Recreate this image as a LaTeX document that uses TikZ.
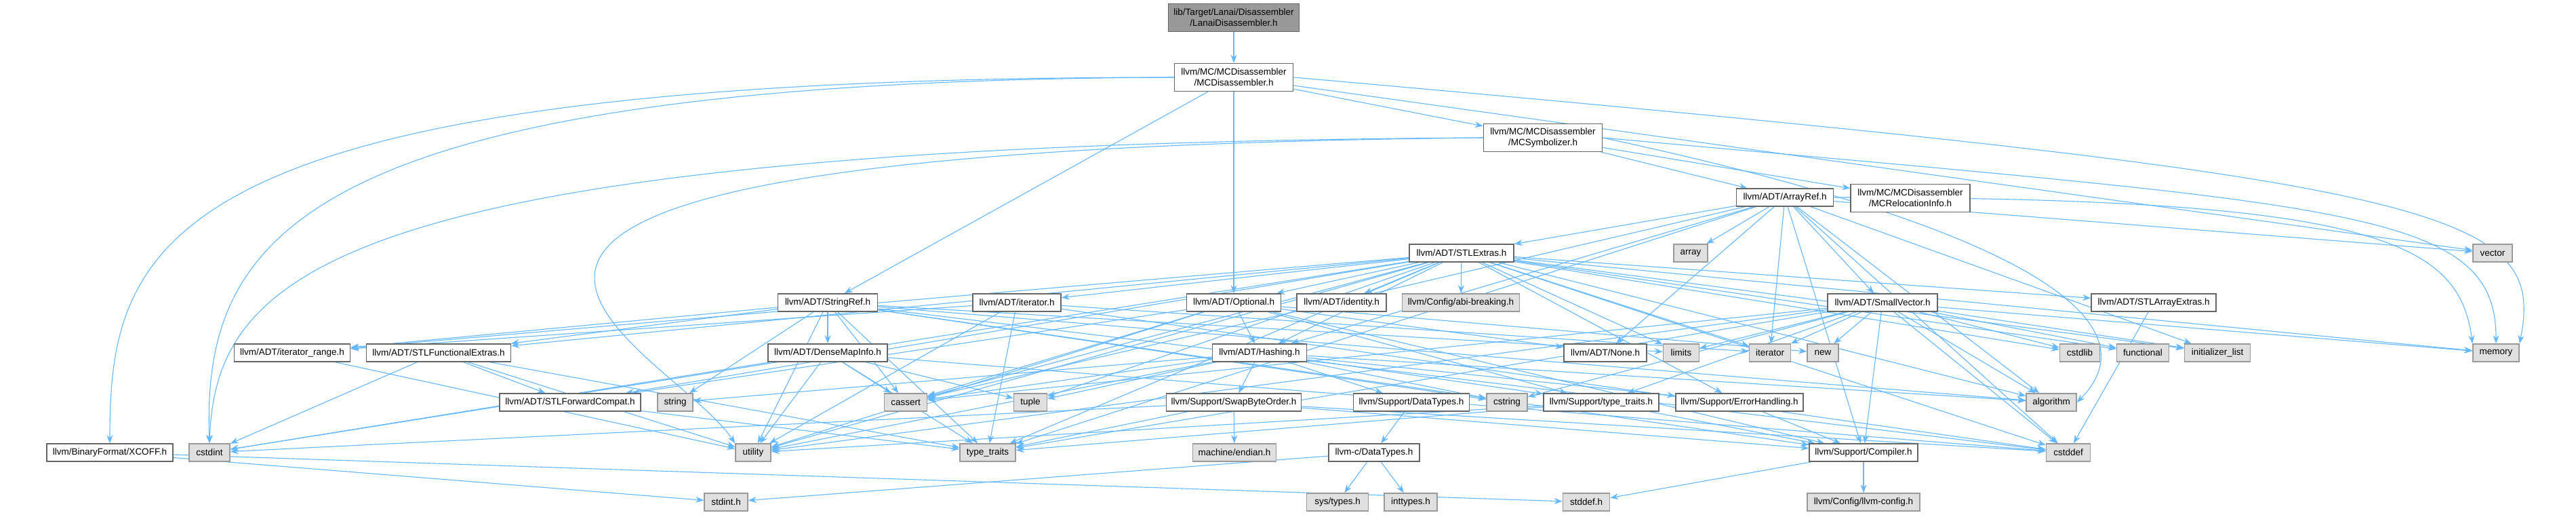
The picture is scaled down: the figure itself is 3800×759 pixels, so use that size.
\documentclass[tikz,border=0pt]{standalone}
\usepackage{fontspec}
\setmainfont{Liberation Sans}
\usetikzlibrary{arrows.meta}
\definecolor{edgec}{HTML}{63B8FF}
\definecolor{sysfill}{HTML}{E0E0E0}
\definecolor{sysdraw}{HTML}{999999}
\definecolor{hdrdraw}{HTML}{666666}
\definecolor{rootfill}{HTML}{999999}
\pgfdeclarelayer{bg}
\pgfsetlayers{bg,main}
\begin{document}
\begin{tikzpicture}[x=1pt,y=-1pt,
  box/.style={rectangle, font=\fontsize{13.5}{16}\selectfont, inner xsep=5pt, inner ysep=0pt, minimum height=26pt, line width=1.5pt, align=center},
  hdr/.style={box, draw=hdrdraw, fill=white},
  sys/.style={box, draw=sysdraw, fill=sysfill},
  rootn/.style={box, draw=hdrdraw, fill=rootfill, minimum height=41pt},
  two/.style={minimum height=41pt},
  e/.style={draw=edgec, line width=1.1pt, -{Stealth[length=12pt,width=9pt]}},
]
\useasboundingbox (0,0) rectangle (3800,759);
% row 0-3
\node[rootn, minimum width=193] (root) at (1820,26) {lib/Target/Lanai/Disassembler\\/LanaiDisassembler.h};
\node[hdr, two, minimum width=175] (mcdis) at (1820,114) {llvm/MC/MCDisassembler\\/MCDisassembler.h};
\node[hdr, two, minimum width=175] (mcsym) at (2276,203) {llvm/MC/MCDisassembler\\/MCSymbolizer.h};
\node[hdr, minimum width=143] (arrayref) at (2633,291) {llvm/ADT/ArrayRef.h};
\node[hdr, two, minimum width=176] (mcreloc) at (2818,292) {llvm/MC/MCDisassembler\\/MCRelocationInfo.h};
% row 4
\node[hdr, minimum width=154] (stlextras) at (2156,373) {llvm/ADT/STLExtras.h};
\node[sys, minimum width=50] (array) at (2494,373) {array};
\node[sys, minimum width=58] (vector) at (3677,373) {vector};
% row 5
\node[hdr, minimum width=147] (stringref) at (1221,446) {llvm/ADT/StringRef.h};
\node[hdr, minimum width=130] (iteratorh) at (1500,446) {llvm/ADT/iterator.h};
\node[hdr, minimum width=139] (optional) at (1820,446) {llvm/ADT/Optional.h};
\node[hdr, minimum width=132] (identity) at (1979,446) {llvm/ADT/identity.h};
\node[sys, minimum width=173] (abi) at (2155,446) {llvm/Config/abi-breaking.h};
\node[hdr, minimum width=162] (smallvec) at (2777,446) {llvm/ADT/SmallVector.h};
\node[hdr, minimum width=184] (stlarray) at (3177,446) {llvm/ADT/STLArrayExtras.h};
% row 6
\node[hdr, minimum width=171] (itrange) at (431,520) {llvm/ADT/iterator\_range.h};
\node[hdr, minimum width=213] (stlfunc) at (647,520) {llvm/ADT/STLFunctionalExtras.h};
\node[hdr, minimum width=176] (densemap) at (1221,520) {llvm/ADT/DenseMapInfo.h};
\node[hdr, minimum width=139] (hashing) at (1858,520) {llvm/ADT/Hashing.h};
\node[hdr, minimum width=122] (none) at (2368,520) {llvm/ADT/None.h};
\node[sys, minimum width=53] (limits) at (2480,520) {limits};
\node[sys, minimum width=61] (iterator) at (2611,520) {iterator};
\node[sys, minimum width=46] (new) at (2689,520) {new};
\node[sys, minimum width=59] (cstdlib) at (3068,520) {cstdlib};
\node[sys, minimum width=77] (functional) at (3161,520) {functional};
\node[sys, minimum width=97] (initlist) at (3271,520) {initializer\_list};
\node[sys, minimum width=68] (memory) at (3682,520) {memory};
% row 7
\node[hdr, minimum width=208] (stlfwd) at (841,593) {llvm/ADT/STLForwardCompat.h};
\node[sys, minimum width=52] (string) at (996,593) {string};
\node[sys, minimum width=63] (cassert) at (1336,593) {cassert};
\node[sys, minimum width=49] (tuple) at (1520,593) {tuple};
\node[hdr, minimum width=199] (swap) at (1820,593) {llvm/Support/SwapByteOrder.h};
\node[hdr, minimum width=171] (supdt) at (2082,593) {llvm/Support/DataTypes.h};
\node[sys, minimum width=60] (cstring) at (2223,593) {cstring};
\node[hdr, minimum width=170] (suptt) at (2362,593) {llvm/Support/type\_traits.h};
\node[hdr, minimum width=188] (errh) at (2566,593) {llvm/Support/ErrorHandling.h};
\node[sys, minimum width=74] (algorithm) at (3026,593) {algorithm};
% row 8
\node[hdr, minimum width=186] (xcoff) at (162,667) {llvm/BinaryFormat/XCOFF.h};
\node[sys, minimum width=60] (cstdint) at (309,667) {cstdint};
\node[sys, minimum width=52] (utility) at (1111,667) {utility};
\node[sys, minimum width=82] (typetraits) at (1457,667) {type\_traits};
\node[sys, minimum width=123] (endian) at (1821,667) {machine/endian.h};
\node[hdr, minimum width=134] (cdt) at (2027,667) {llvm-c/DataTypes.h};
\node[hdr, minimum width=160] (compiler) at (2749,667) {llvm/Support/Compiler.h};
\node[sys, minimum width=65] (cstddef) at (3051,667) {cstddef};
% row 9
\node[sys, minimum width=64] (stdint) at (1071,740) {stdint.h};
\node[sys, minimum width=91] (systypes) at (1973,740) {sys/types.h};
\node[sys, minimum width=78] (inttypes) at (2081,740) {inttypes.h};
\node[sys, minimum width=69] (stddef) at (2340,740) {stddef.h};
\node[sys, minimum width=166] (llvmconfig) at (2749,740) {llvm/Config/llvm-config.h};

\begin{pgfonlayer}{bg}
\fill[white] (0,0) rectangle (3800,759);
% curved long edges
\draw[e] (mcdis.west) .. controls +(-1500,0) and +(0,-300) .. (xcoff.north);
\draw[e] (mcdis.west) .. controls +(-1300,5) and +(-10,-300) .. (cstdint.north);
\draw[e] (mcsym.west) .. controls +(-1700,10) and +(10,-250) .. (cstdint.north);
\draw[e] (mcsym.west) .. controls +(-1900,20) and +(-100,-150) .. (utility.north west);
\draw[e] (mcdis.east) .. controls +(1700,150) and +(40,-200) .. (memory.north east);
\draw[e] (mcsym.east) .. controls +(1100,100) and +(0,-200) .. (memory.north);
\draw[e] (arrayref.east) .. controls +(800,0) and +(-20,-150) .. (memory.north west);
\draw[e] (mcsym.east) .. controls +(700,150) and +(100,-100) .. (algorithm.east);
% straight edges
\foreach \a/\b in {root/mcdis,
  mcdis/stringref, mcdis/optional, mcdis/mcsym, mcdis/vector,
  mcsym/arrayref, mcsym/mcreloc,
  arrayref/hashing, arrayref/none, arrayref/smallvec, arrayref/stlextras, arrayref/compiler,
  arrayref/algorithm, arrayref/array, arrayref/cassert, arrayref/cstddef, arrayref/initlist,
  arrayref/iterator, arrayref/typetraits, arrayref/vector,
  stlextras/hashing, stlextras/optional, stlextras/stlarray, stlextras/stlfwd, stlextras/stlfunc,
  stlextras/identity, stlextras/iteratorh, stlextras/itrange, stlextras/abi, stlextras/errh,
  stlextras/algorithm, stlextras/cassert, stlextras/cstddef, stlextras/cstdint, stlextras/cstdlib,
  stlextras/functional, stlextras/initlist, stlextras/iterator, stlextras/limits, stlextras/memory,
  stlextras/tuple, stlextras/typetraits, stlextras/utility,
  optional/hashing, optional/none, optional/stlfwd, optional/compiler, optional/suptt,
  optional/cassert, optional/new, optional/utility,
  stringref/densemap, stringref/stlfunc, stringref/itrange, stringref/compiler, stringref/algorithm,
  stringref/cassert, stringref/cstddef, stringref/cstring, stringref/limits, stringref/string,
  stringref/typetraits, stringref/utility,
  iteratorh/itrange, iteratorh/cstddef, iteratorh/iterator, iteratorh/typetraits, iteratorh/utility,
  smallvec/compiler, smallvec/suptt, smallvec/algorithm, smallvec/cassert, smallvec/cstddef,
  smallvec/cstdlib, smallvec/cstring, smallvec/functional, smallvec/initlist, smallvec/iterator,
  smallvec/limits, smallvec/memory, smallvec/new, smallvec/typetraits, smallvec/utility,
  stlarray/cstddef,
  itrange/utility,
  stlfunc/stlfwd, stlfunc/cstdint, stlfunc/typetraits, stlfunc/utility,
  stlfwd/typetraits,
  densemap/cassert, densemap/cstddef, densemap/cstdint, densemap/tuple, densemap/typetraits, densemap/utility,
  hashing/supdt, hashing/errh, hashing/swap, hashing/suptt, hashing/algorithm, hashing/cassert,
  hashing/cstring, hashing/string, hashing/tuple, hashing/utility,
  swap/compiler, swap/cstddef, swap/cstdint, swap/typetraits, swap/endian,
  supdt/cdt,
  cdt/inttypes, cdt/systypes, cdt/stdint,
  suptt/compiler, suptt/typetraits, suptt/utility,
  errh/compiler,
  compiler/llvmconfig, compiler/stddef,
  xcoff/stddef, xcoff/stdint}
  \draw[e] (\a) -- (\b);
\end{pgfonlayer}
\end{tikzpicture}
\end{document}
